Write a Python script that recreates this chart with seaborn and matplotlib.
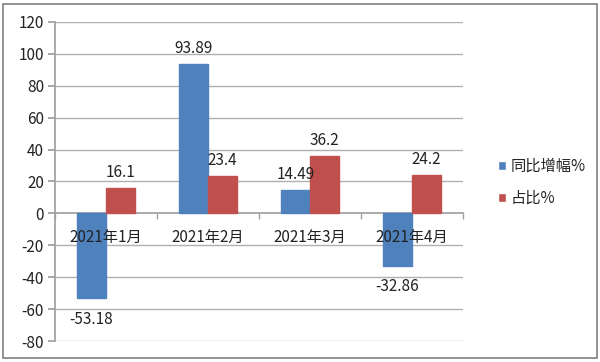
import matplotlib
matplotlib.use("Agg")
import matplotlib.pyplot as plt
import seaborn as sns
import pandas as pd
from matplotlib.patches import Rectangle

categories = ["2021年1月", "2021年2月", "2021年3月", "2021年4月"]
series_names = ["同比增幅%", "占比%"]
yoy_values = [-53.18, 93.89, 14.49, -32.86]
share_values = [16.1, 23.4, 36.2, 24.2]
yticks = [-80, -60, -40, -20, 0, 20, 40, 60, 80, 100, 120]

sns.set_theme(style="white")
plt.rcParams['font.family'] = ['Noto Sans CJK SC', 'DejaVu Sans']

df = pd.DataFrame({
    "month": categories * 2,
    "series": [series_names[0]] * 4 + [series_names[1]] * 4,
    "value": yoy_values + share_values,
})

fig = plt.figure(figsize=(6.0, 3.62), dpi=100)
ax = fig.add_axes([55/600, 1-341/362, 408/600, 319/362])

palette = {series_names[0]: "#4F81BD", series_names[1]: "#C0504D"}
sns.barplot(data=df, x="month", y="value", hue="series", order=categories,
            hue_order=series_names, palette=palette, width=0.57, saturation=1,
            ax=ax, legend=True)

for cont in ax.containers:
    vals = [b.get_height() for b in cont]
    pos_labels = ["%g" % v if v >= 0 else "" for v in vals]
    neg_labels = ["%g" % v if v < 0 else "" for v in vals]
    for bar in cont:
        bar.set_edgecolor(bar.get_facecolor())
        bar.set_zorder(1)
    ax.bar_label(cont, labels=pos_labels, padding=5, fontsize=11, color="#222222")
    ax.bar_label(cont, labels=neg_labels, padding=9, fontsize=11, color="#222222")

ax.set_ylim(-80, 120)
ax.set_xlim(-0.5, 3.5)
ax.set_yticks(yticks)
ax.set_yticklabels([str(v) for v in yticks], fontsize=11, color="#222222")
ax.grid(False)
for v in yticks:
    if v != 0:
        ax.axhline(v, color="#B0B0B0", linewidth=1, zorder=0)
ax.set_axisbelow(False)
ax.set_xlabel("")
ax.set_ylabel("")

for s in ["top", "right"]:
    ax.spines[s].set_visible(False)
ax.spines["left"].set_color("#A0A0A0")
ax.spines["left"].set_zorder(0.5)
ax.spines["bottom"].set_position(("data", 0))
ax.spines["bottom"].set_color("#A0A0A0")
ax.spines["bottom"].set_zorder(0.5)
ax.tick_params(axis="y", which="major", left=True, length=5, color="#A0A0A0", pad=3)
ax.tick_params(axis="x", which="major", bottom=False, length=0, pad=11,
               labelsize=11, labelcolor="#222222")
ax.set_xticks([-0.5, 0.5, 1.5, 2.5, 3.5], minor=True)
ax.tick_params(axis="x", which="minor", bottom=True, length=4, color="#A0A0A0", direction="out")

leg = ax.legend(loc="upper left", bbox_to_anchor=(484/600, 1-144/362),
                bbox_transform=fig.transFigure, frameon=False, fontsize=11,
                handlelength=0.55, handleheight=0.55, handletextpad=0.3,
                labelspacing=1.0)

fig.patches.append(Rectangle((3/600, 4/362), 594/600, 354/362, transform=fig.transFigure,
                             fill=False, edgecolor="#808080", linewidth=1.2))

fig.savefig("out.png", dpi=100)
